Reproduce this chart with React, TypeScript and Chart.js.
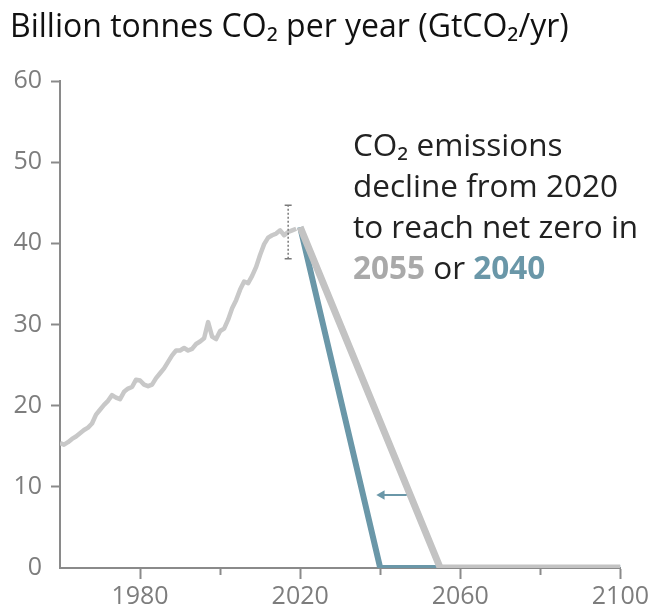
import React, { useEffect, useRef } from "react";
import { Chart, registerables } from "chart.js";

Chart.register(...registerables);

// ---- data ----
const HIST_YEARS = [
  1960, 1961, 1962, 1963, 1964, 1965, 1966, 1967, 1968, 1969,
  1970, 1971, 1972, 1973, 1974, 1975, 1976, 1977, 1978, 1979,
  1980, 1981, 1982, 1983, 1984, 1985, 1986, 1987, 1988, 1989,
  1990, 1991, 1992, 1993, 1994, 1995, 1996, 1997, 1998, 1999,
  2000, 2001, 2002, 2003, 2004, 2005, 2006, 2007, 2008, 2009,
  2010, 2011, 2012, 2013, 2014, 2015, 2016, 2017, 2018, 2019,
];
const HIST_VALUES = [
  15.4, 15.2, 15.5, 15.9, 16.2, 16.6, 17.0, 17.3, 17.8, 18.9,
  19.5, 20.1, 20.6, 21.3, 21.0, 20.8, 21.7, 22.1, 22.3, 23.2,
  23.1, 22.6, 22.4, 22.6, 23.4, 24.0, 24.6, 25.4, 26.2, 26.8,
  26.8, 27.1, 26.8, 27.0, 27.6, 27.9, 28.3, 30.3, 28.5, 28.2,
  29.2, 29.5, 30.6, 32.0, 33.0, 34.3, 35.3, 35.1, 36.0, 37.1,
  38.6, 39.9, 40.7, 41.0, 41.2, 41.6, 41.0, 41.4, 41.6, 41.8,
];
const PATH_2055_YEARS = [2020, 2055, 2100];
const PATH_2055_VALUES = [42, 0, 0];
const PATH_2040_YEARS = [2020, 2040, 2100];
const PATH_2040_VALUES = [42, 0, 0];
const ERRBAR_YEAR = 2017;
const ERRBAR_RANGE = [38.1, 44.7];
const ARROW_YEARS = [2046.6, 2040.4];
const ARROW_VALUE = 9;

const X_MIN = 1960;
const X_MAX = 2100;
const X_STEP = 20;
const X_LABELS = [1980, 2020, 2060, 2100];
const Y_MIN = 0;
const Y_MAX = 60;
const Y_STEP = 10;

const TITLE = "Billion tonnes CO₂ per year (GtCO₂/yr)";
const NOTE_LINES = ["CO₂ emissions", "decline from 2020", "to reach net zero in"];
const NOTE_YEAR_A = "2055";
const NOTE_YEAR_B = "2040";
const NOTE_OR = " or ";

// ---- styles ----
const GREY_HIST = "#c8c8c8";
const GREY_PATH = "#c3c3c3";
const TEAL = "#6a97a8";
const AXIS = "#8a8a8a";
const TICK_TEXT = "#7d7d7d";
const FONT = "'Open Sans', 'Noto Sans', sans-serif";

const toPts = (xs: number[], ys: number[]) => xs.map((x, i) => ({ x, y: ys[i] }));

export default function App() {
  const ref = useRef<HTMLCanvasElement | null>(null);

  useEffect(() => {
    if (!ref.current) return;
    Chart.defaults.font.family = FONT;
    const chart = new Chart(ref.current, {
      type: "line",
      data: {
        datasets: [
          {
            label: "2055 path",
            data: toPts(PATH_2055_YEARS, PATH_2055_VALUES),
            borderColor: GREY_PATH,
            borderWidth: 7,
            pointRadius: 0,
            order: 1,
          },
          {
            label: "2040 path",
            data: toPts(PATH_2040_YEARS, PATH_2040_VALUES),
            borderColor: TEAL,
            borderWidth: 6,
            pointRadius: 0,
            order: 2,
          },
          {
            label: "historical",
            data: toPts(HIST_YEARS, HIST_VALUES),
            borderColor: GREY_HIST,
            borderWidth: 4.5,
            borderJoinStyle: "round",
            pointRadius: 0,
            order: 3,
          },
          {
            label: "range",
            data: ERRBAR_RANGE.map((v) => ({ x: ERRBAR_YEAR, y: v })),
            borderColor: "#7a7a7a",
            borderWidth: 1.5,
            borderDash: [2, 2],
            pointStyle: "line",
            pointRadius: 3.5,
            pointBorderWidth: 1.5,
            pointBorderColor: "#7a7a7a",
            order: 0,
          },
          {
            label: "arrow",
            data: ARROW_YEARS.map((x) => ({ x, y: ARROW_VALUE })),
            borderColor: TEAL,
            borderWidth: 2,
            pointStyle: "triangle",
            pointRotation: 270,
            pointRadius: [0, 5.5],
            pointBackgroundColor: TEAL,
            pointBorderWidth: 0,
            order: 0,
          },
        ] as any,
      },
      options: {
        animation: false,
        responsive: false,
        layout: { padding: { left: 0, right: 30, top: 81, bottom: 0 } },
        plugins: { legend: { display: false }, tooltip: { enabled: false }, title: { display: false } },
        scales: {
          x: {
            type: "linear",
            min: X_MIN,
            max: X_MAX,
            afterFit: (s: any) => {
              s.height = 42;
            },
            ticks: {
              stepSize: X_STEP,
              autoSkip: false,
              maxRotation: 0,
              padding: 3,
              color: TICK_TEXT,
              font: { size: 25, family: FONT },
              callback: (v: any) => (X_LABELS.includes(Number(v)) ? String(v) : ""),
            },
            grid: {
              drawOnChartArea: false,
              drawTicks: true,
              tickLength: 11,
              tickWidth: 2,
              tickColor: (c: any) => (c.tick && c.tick.value === X_MIN ? "rgba(0,0,0,0)" : AXIS),
              tickBorderDash: (c: any) =>
                c.tick && X_LABELS.includes(c.tick.value) ? [] : [6, 30],
            } as any,
            border: { display: true, color: AXIS, width: 2 },
          },
          y: {
            min: Y_MIN,
            max: Y_MAX,
            afterFit: (s: any) => {
              s.width = 60;
            },
            ticks: {
              stepSize: Y_STEP,
              padding: 9,
              color: TICK_TEXT,
              font: { size: 25, family: FONT },
            },
            grid: {
              drawOnChartArea: false,
              drawTicks: true,
              tickLength: 9,
              tickWidth: 2,
              tickColor: (c: any) => (c.tick && c.tick.value === Y_MIN ? "rgba(0,0,0,0)" : AXIS),
            },
            border: { display: true, color: AXIS, width: 2 },
          },
        },
      } as any,
    });
    return () => chart.destroy();
  }, []);

  return (
    <div style={{ position: "absolute", left: 0, top: 0, width: 652, height: 610, background: "#fff", overflow: "hidden" }}>
      <canvas ref={ref} width={652} height={610} style={{ position: "absolute", left: 0, top: 0, width: 652, height: 610 }} />
      <div
        style={{
          position: "absolute",
          left: 10,
          top: 7,
          fontFamily: FONT,
          fontSize: 32,
          lineHeight: "35px",
          color: "#111",
          whiteSpace: "nowrap",
        }}
      >
        {TITLE}
      </div>
      <div
        style={{
          position: "absolute",
          left: 353,
          top: 123,
          fontFamily: FONT,
          fontSize: 31.5,
          lineHeight: "41px",
          color: "#222",
          whiteSpace: "nowrap",
        }}
      >
        {NOTE_LINES.map((l) => (
          <div key={l}>{l}</div>
        ))}
        <div>
          <span style={{ fontWeight: 700, color: "#a9a9a9" }}>{NOTE_YEAR_A}</span>
          {NOTE_OR}
          <span style={{ fontWeight: 700, color: TEAL }}>{NOTE_YEAR_B}</span>
        </div>
      </div>
    </div>
  );
}
